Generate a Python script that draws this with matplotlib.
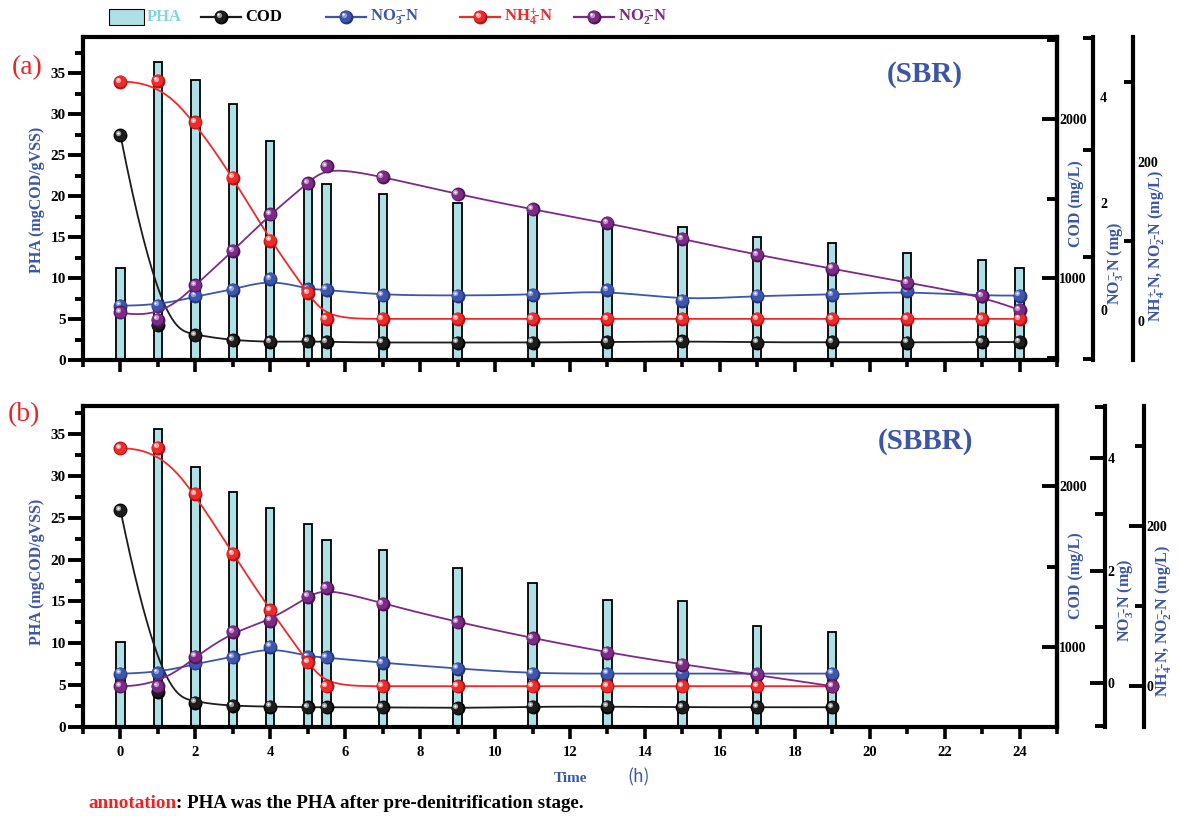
import numpy as np
import matplotlib
matplotlib.use('Agg')
import matplotlib.pyplot as plt
from matplotlib.patches import Rectangle
from matplotlib.transforms import offset_copy

plt.rcParams.update({
    'font.family': ['Liberation Serif', 'DejaVu Serif'],
    'font.weight': 'bold',
    'axes.labelweight': 'bold',
    'mathtext.fontset': 'custom',
    'mathtext.rm': 'Liberation Serif:bold',
    'mathtext.it': 'Liberation Serif:italic:bold',
    'mathtext.bf': 'Liberation Serif:bold',
})

# ---------------- data ----------------
time_a = [0, 1, 2, 3, 4, 5, 5.5, 7, 9, 11, 13, 15, 17, 19, 21, 23, 24]
pha_a = [11.2, 36.3, 34.1, 31.2, 26.7, 21.0, 21.5, 20.2, 19.2, 18.4, 16.5, 16.2, 15.0, 14.3, 13.1, 12.2, 11.2]
cod_a = [1900, 704, 641, 610, 599, 604, 599, 596, 596, 596, 599, 604, 596, 599, 596, 599, 599]
no3_a = [0.08, 0.08, 0.26, 0.375, 0.58, 0.385, 0.38, 0.275, 0.27, 0.28, 0.375, 0.175, 0.27, 0.28, 0.36, 0.26, 0.27]
nh4_a = [300, 301, 249, 180, 101, 35.5, 3, 3, 3, 3, 3, 3, 3, 3, 3, 3, 3]
no2_a = [11, 2, 45, 88, 134, 173, 194, 181, 159, 140, 123, 103, 83, 66, 48, 32, 14]

time_b = [0, 1, 2, 3, 4, 5, 5.5, 7, 9, 11, 13, 15, 17, 19]
pha_b = [10.1, 35.6, 31.1, 28.1, 26.2, 24.3, 22.3, 21.1, 19.0, 17.2, 15.2, 15.1, 12.1, 11.3]
cod_b = [1851, 720, 652, 631, 627, 623, 623, 623, 617, 627, 627, 623, 623, 623]
no3_b = [0.17, 0.18, 0.35, 0.46, 0.65, 0.47, 0.46, 0.36, 0.26, 0.17, 0.17, 0.17, 0.17, 0.17]
nh4_b = [297, 298, 240, 165, 95, 30, 0, 0, 0, 0, 0, 0, 0, 0]
no2_b = [0, 0, 37, 68, 82, 112, 123, 103, 80, 60, 42, 27, 14, 0]

x_major = list(range(0, 25, 2))
pha_ticks = list(range(0, 36, 5))

BLUE_TXT = '#3b56a6'
C_BLUE = ('#3d55ad', '#23367c', '#8f9fd8')
C_RED = ('#ee2a2a', '#b01414', '#fba0a0')
C_PURPLE = ('#7b2b86', '#4c1556', '#c48fcc')
C_BLACK = ('#1c1c1c', '#000000', '#9a9a9a')
BAR = '#aee0e6'
PHA_LEG = '#86d3e0'
LAB_FS = 11.5

W, H = 1179, 816
fig = plt.figure(figsize=(W / 100, H / 100), dpi=100)


def bspline(x, y, k=3, n=500):
    P = np.column_stack([x, y]).astype(float)
    m = len(P)
    k = min(k, m - 1)
    inner = np.arange(1, m - k)
    knots = np.concatenate([np.zeros(k + 1), inner, np.full(k + 1, m - k)]).astype(float)
    u = np.linspace(0, m - k, n)
    u[-1] -= 1e-9
    N = np.zeros((n, len(knots) - 1))
    for i in range(len(knots) - 1):
        N[:, i] = ((u >= knots[i]) & (u < knots[i + 1])).astype(float)
    for p in range(1, k + 1):
        Nn = np.zeros((n, len(knots) - 1 - p))
        for i in range(len(knots) - 1 - p):
            d1 = knots[i + p] - knots[i]
            d2 = knots[i + p + 1] - knots[i + 1]
            a = (u - knots[i]) / d1 * N[:, i] if d1 > 0 else 0
            b = (knots[i + p + 1] - u) / d2 * N[:, i + 1] if d2 > 0 else 0
            Nn[:, i] = a + b
        N = Nn
    C = N @ P
    return C[:, 0], C[:, 1]


def balls(ax, x, y, cols, ms=10, z=5):
    main, dark, light = cols
    base = ax.transData
    ax.plot(x, y, 'o', ms=ms, color=dark, mec='none', zorder=z, clip_on=False)
    t1 = offset_copy(base, fig=fig, x=-0.6, y=0.6, units='dots')
    ax.plot(x, y, 'o', ms=ms * 0.85, color=main, mec='none', transform=t1, zorder=z + 0.1, clip_on=False)
    t2 = offset_copy(base, fig=fig, x=-2.2, y=2.2, units='dots')
    ax.plot(x, y, 'o', ms=ms * 0.38, color=light, mec='none', transform=t2, zorder=z + 0.2, clip_on=False)
    t3 = offset_copy(base, fig=fig, x=-2.6, y=2.6, units='dots')
    ax.plot(x, y, 'o', ms=ms * 0.16, color='white', mec='none', transform=t3, zorder=z + 0.3, clip_on=False)


def series(ax, x, y, cols):
    cx, cy = bspline(x, y)
    ax.plot(cx, cy, color=cols[0], lw=1.3, zorder=4)
    balls(ax, x, y, cols)


def panel(top_px, bot_px, t, pha, cod, no3, nh4, no2, lims, off3, off4, inner_major, show_xlabels):
    left, right = 83, 1057
    rect = [left / W, 1 - bot_px / H, (right - left) / W, (bot_px - top_px) / H]
    ax = fig.add_axes(rect)
    ax.set_xlim(-1, 25)
    ax.set_ylim(*lims['pha'])
    ax.set_xticks(x_major)
    ax.set_xticks(list(range(-1, 26, 2)), minor=True)
    ax.set_yticks(pha_ticks)
    ax.set_yticks(list(np.arange(2.5, 38, 5)), minor=True)
    ax.tick_params(axis='x', which='major', direction='out', length=8.6, width=2.6, labelsize=10.5, pad=5,
                   top=False, labelbottom=show_xlabels)
    ax.tick_params(axis='x', which='minor', direction='out', length=5.2, width=2.6, top=False)
    ax.tick_params(axis='y', which='major', direction='out', length=10.5, width=2.8, labelsize=11, pad=2,
                   right=False)
    ax.tick_params(axis='y', which='minor', direction='out', length=5.8, width=2.8, right=False)
    for sp in ax.spines.values():
        sp.set_linewidth(3)
    ax.bar(t, pha, width=0.22, color=BAR, edgecolor='black', linewidth=1.3, zorder=2)

    # COD axis
    a2 = ax.twinx()
    a2.set_ylim(*lims['cod'])
    a2.set_yticks([1000, 2000])
    a2.set_yticks([500, 1500, 2500], minor=True)
    a2.tick_params(axis='y', which='major', direction='in', length=10.5, width=2.8, labelsize=10, pad=1.5)
    a2.tick_params(axis='y', which='minor', direction='in', length=7, width=2.8)
    for k in ['left', 'top', 'bottom']:
        a2.spines[k].set_visible(False)
    a2.spines['right'].set_linewidth(3)
    series(a2, t, cod, C_BLACK)

    # NO3 axis
    a3 = ax.twinx()
    a3.set_ylim(*lims['no3'])
    a3.spines['right'].set_position(('outward', off3))
    for k in ['left', 'top', 'bottom']:
        a3.spines[k].set_visible(False)
    a3.spines['right'].set_linewidth(3)
    a3.set_yticks([0, 2, 4])
    lo, hi = lims['no3']
    a3.set_yticks([lo + 0.02, 1, 3, hi - 0.02], minor=True)
    a3.tick_params(axis='y', which='major', direction='in', length=inner_major, width=2.8, labelsize=10,
                   pad=lims['pad3'])
    a3.tick_params(axis='y', which='minor', direction='in', length=7, width=2.8)
    series(a3, t, no3, C_BLUE)

    # NH4 / NO2 axis
    a4 = ax.twinx()
    a4.set_ylim(*lims['nh4'])
    a4.spines['right'].set_position(('outward', off4))
    for k in ['left', 'top', 'bottom']:
        a4.spines[k].set_visible(False)
    a4.spines['right'].set_linewidth(3)
    a4.set_yticks([0, 200])
    a4.set_yticks([100, 300], minor=True)
    a4.tick_params(axis='y', which='major', direction='in', length=inner_major, width=2.8, labelsize=10,
                   pad=lims['pad4'])
    a4.tick_params(axis='y', which='minor', direction='in', length=6.5, width=2.8)
    series(a4, t, nh4, C_RED)
    series(a4, t, no2, C_PURPLE)
    return ax


ax_a = panel(37, 360, time_a, pha_a, cod_a, no3_a, nh4_a, no2_a,
             {'pha': (0, 39.4), 'cod': (486, 2518), 'no3': (-0.94, 5.12), 'nh4': (-48.5, 356),
              'pad3': 5, 'pad4': 3},
             off3=26, off4=55, inner_major=0, show_xlabels=False)
ax_b = panel(406, 727, time_b, pha_b, cod_b, no3_b, nh4_b, no2_b,
             {'pha': (0, 38.35), 'cod': (500, 2498), 'no3': (-0.78, 4.93), 'nh4': (-51, 350),
              'pad3': 2, 'pad4': 2},
             off3=34.5, off4=62.5, inner_major=10.5, show_xlabels=True)


def ftext(x, y, s, **kw):
    return fig.text(x / W, 1 - y / H, s, **kw)


NO3_LAB = r'NO$_3^{-}\!$-N (mg)'
NH_LAB = r'NH$_4^{+}\!$-N, NO$_2^{-}\!$-N (mg/L)'
# axis labels
for yc in (200, 572):
    ftext(37, yc, 'PHA (mgCOD/gVSS)', rotation=90, ha='center', va='center', color=BLUE_TXT, fontsize=LAB_FS)
ftext(1076, 204, 'COD (mg/L)', rotation=90, ha='center', va='center', color=BLUE_TXT, fontsize=LAB_FS)
ftext(1076, 576, 'COD (mg/L)', rotation=90, ha='center', va='center', color=BLUE_TXT, fontsize=LAB_FS)
ftext(1115, 263, NO3_LAB, rotation=90, ha='center', va='center', color=BLUE_TXT, fontsize=LAB_FS)
ftext(1125, 600, NO3_LAB, rotation=90, ha='center', va='center', color=BLUE_TXT, fontsize=LAB_FS)
ftext(1157, 246, NH_LAB, rotation=90, ha='center', va='center', color=BLUE_TXT, fontsize=LAB_FS)
ftext(1164, 621, NH_LAB, rotation=90, ha='center', va='center', color=BLUE_TXT, fontsize=LAB_FS)

# panel tags
ftext(27, 68, '(a)', ha='center', va='center', color='#e8262a', fontsize=20, fontweight='normal')
ftext(24, 415, '(b)', ha='center', va='center', color='#e8262a', fontsize=20, fontweight='normal')
ftext(925, 74, '(SBR)', ha='center', va='center', color=BLUE_TXT, fontsize=21)
ftext(925, 442, '(SBBR)', ha='center', va='center', color=BLUE_TXT, fontsize=21)

# x label
ftext(571, 779, 'Time', ha='center', va='center', color=BLUE_TXT, fontsize=11)
ftext(639, 777, '(h)', ha='center', va='center', color=BLUE_TXT, fontsize=12.5,
      family=['Noto Sans CJK SC', 'DejaVu Sans'], fontweight='normal')

# annotation
t1 = ftext(88, 808, 'annotation', ha='left', va='baseline', color='#ee2222', fontsize=13.7)
renderer = fig.canvas.get_renderer()
bb = t1.get_window_extent(renderer=renderer)
fig.text(bb.x1 / fig.bbox.width, 1 - 808 / H, ': PHA was the PHA after pre-denitrification stage.',
         ha='left', va='baseline', color='black', fontsize=13.7)

# legend (manual)
ly = 17
fig.add_artist(Rectangle((109 / W, 1 - 25 / H), 35 / W, 16 / H, transform=fig.transFigure,
                         facecolor=BAR, edgecolor='black', linewidth=0.8))
ftext(147, ly, 'PHA', ha='left', va='center', color=PHA_LEG, fontsize=12)
ax_leg = fig.add_axes([0, 0, 1, 1], facecolor='none')
ax_leg.set_axis_off()
ax_leg.set_xlim(0, W)
ax_leg.set_ylim(H, 0)
leg_items = [(201, 'COD', C_BLACK, 'black'),
             (326, r'NO$_3^{-}\!$-N', C_BLUE, C_BLUE[0]),
             (460, r'NH$_4^{+}\!$-N', C_RED, C_RED[0]),
             (574, r'NO$_2^{-}\!$-N', C_PURPLE, C_PURPLE[0])]
for x0, lab, cols, tc in leg_items:
    ax_leg.plot([x0, x0 + 40], [ly, ly], color=cols[0], lw=1.6, zorder=4)
    balls(ax_leg, [x0 + 20], [ly], cols, ms=10)
    ftext(x0 + 44, ly, lab, ha='left', va='center', color=tc, fontsize=12)

fig.savefig('out.png', dpi=100)
